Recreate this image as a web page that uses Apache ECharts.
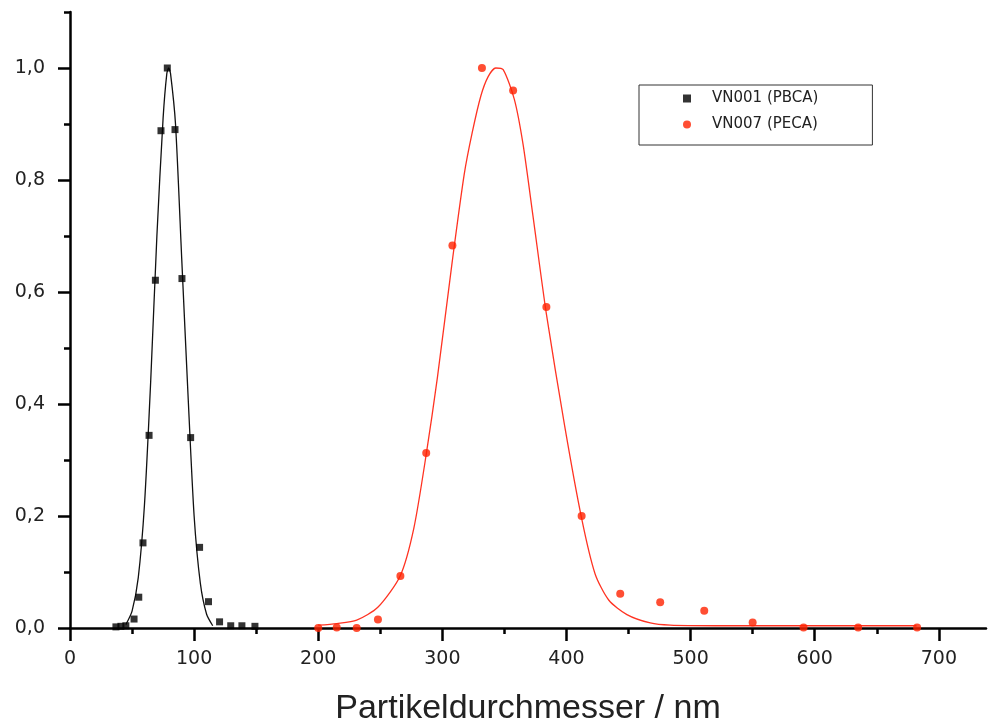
<!DOCTYPE html>
<html>
<head>
<meta charset="utf-8">
<title>Partikelgrößenverteilung</title>
<script src="https://cdn.jsdelivr.net/npm/echarts@6/dist/echarts.min.js"></script>
<style>
  html, body { margin: 0; padding: 0; background: #ffffff; }
  #chart { width: 992px; height: 722px; }
</style>
</head>
<body>
<div id="chart"></div>
<script>
// Measured size distribution, VN001 (PBCA)
const pbcaDiameter = [37, 41, 45, 51.6, 55.4, 58.8, 63.7, 68.8, 73.3, 78.4, 84.6, 90.2, 97.2, 104.4, 111.6, 120.5, 129.5, 138.5, 149];
const pbcaValue    = [0.002, 0.003, 0.004, 0.016, 0.055, 0.152, 0.344, 0.621, 0.888, 1.0, 0.890, 0.624, 0.340, 0.144, 0.047, 0.011, 0.004, 0.004, 0.003];

// Fitted curve, VN001
const pbcaFitDiameter = [45, 50, 55, 60, 65, 70, 75, 78, 79.5, 81, 85, 90, 95, 100, 105, 110, 115];
const pbcaFitValue    = [0.006, 0.03, 0.09, 0.22, 0.44, 0.70, 0.91, 0.99, 1.0, 0.99, 0.90, 0.66, 0.42, 0.20, 0.08, 0.025, 0.004];

// Measured size distribution, VN007 (PECA)
const pecaDiameter = [200, 214.9, 231, 248.1, 266.2, 287, 308.1, 331.9, 357, 383.8, 412.2, 443.3, 475.5, 511, 550, 591, 635, 682.5];
const pecaValue    = [0.0, 0.001, 0.0, 0.015, 0.093, 0.3125, 0.683, 1.0, 0.96, 0.573, 0.200, 0.061, 0.046, 0.031, 0.010, 0.001, 0.001, 0.001];

// Fitted curve, VN007
const pecaFitDiameter = [200, 215, 231, 248, 266, 277, 287, 296, 308, 317.6, 324, 331, 337, 343, 349, 358, 365, 373, 383.8, 398.6, 412, 423, 434, 448.7, 467.5, 483.6, 520, 600, 682];
const pecaFitValue    = [0.005, 0.008, 0.014, 0.037, 0.093, 0.178, 0.31, 0.447, 0.655, 0.81, 0.884, 0.95, 0.985, 1.0, 0.997, 0.944, 0.864, 0.736, 0.561, 0.36, 0.198, 0.097, 0.05, 0.024, 0.009, 0.005, 0.004, 0.004, 0.004];

// Axis ticks
const xTicks      = [0, 100, 200, 300, 400, 500, 600, 700];
const xMinorTicks = [50, 150, 250, 350, 450, 550, 650];
const yTicks      = [0, 0.2, 0.4, 0.6, 0.8, 1.0];
const yMinorTicks = [0.1, 0.3, 0.5, 0.7, 0.9, 1.1];

const seriesNames = ['VN001 (PBCA)', 'VN007 (PECA)'];
const xTitle = 'Partikeldurchmesser / nm';

const zip = (xs, ys) => xs.map((x, i) => [x, ys[i]]);

const axisColor = '#000000';
const labelFont = { fontFamily: 'DejaVu Sans', fontSize: 19, color: '#222222' };
const X_MAX = 738;
const Y_MAX = 1.1;

const chart = echarts.init(document.getElementById('chart'), null, { renderer: 'canvas' });

chart.setOption({
  backgroundColor: '#ffffff',
  animation: false,
  grid: { left: 70, right: 6, top: 12, bottom: 94, containLabel: false, outerBoundsMode: 'none' },
  legend: {
    data: [
      { name: seriesNames[0], icon: 'rect' },
      { name: seriesNames[1], icon: 'circle' }
    ],
    orient: 'vertical',
    left: 639,
    top: 85,
    itemWidth: 8,
    itemHeight: 8,
    itemGap: 11,
    padding: [6, 54, 13, 44],
    borderColor: '#333333',
    borderWidth: 1,
    backgroundColor: '#ffffff',
    textStyle: { fontFamily: 'DejaVu Sans', fontSize: 15, color: '#222222', lineHeight: 14, padding: [0, 0, 0, 16] }
  },
  xAxis: [
    {
      type: 'value',
      min: 0,
      max: X_MAX,
      position: 'bottom',
      name: xTitle,
      nameLocation: 'middle',
      nameGap: 64,
      nameTextStyle: { fontFamily: 'Liberation Sans', fontSize: 34, color: '#222222' },
      axisLine: { show: true, onZero: false, lineStyle: { color: axisColor, width: 2.5 } },
      axisTick: { show: true, inside: false, length: 13, customValues: xTicks, lineStyle: { color: axisColor, width: 2.5 } },
      axisLabel: { show: true, margin: 22, customValues: xTicks, formatter: v => String(v), ...labelFont },
      splitLine: { show: false }
    },
    {
      type: 'value',
      min: 0,
      max: X_MAX,
      position: 'bottom',
      axisLine: { show: false, onZero: false },
      axisTick: { show: true, inside: false, length: 6, customValues: xMinorTicks, lineStyle: { color: axisColor, width: 2.5 } },
      axisLabel: { show: false },
      splitLine: { show: false }
    }
  ],
  yAxis: [
    {
      type: 'value',
      min: 0,
      max: Y_MAX,
      position: 'left',
      axisLine: { show: true, onZero: false, lineStyle: { color: axisColor, width: 2.5 } },
      axisTick: { show: true, inside: false, length: 12, customValues: yTicks, lineStyle: { color: axisColor, width: 2.5 } },
      axisLabel: { show: true, margin: 25, customValues: yTicks, formatter: v => v.toFixed(1).replace('.', ','), ...labelFont },
      splitLine: { show: false }
    },
    {
      type: 'value',
      min: 0,
      max: Y_MAX,
      position: 'left',
      axisLine: { show: false, onZero: false },
      axisTick: { show: true, inside: false, length: 6, customValues: yMinorTicks, lineStyle: { color: axisColor, width: 2.5 } },
      axisLabel: { show: false },
      splitLine: { show: false }
    }
  ],
  series: [
    {
      name: 'VN001 Fit',
      type: 'line',
      data: zip(pbcaFitDiameter, pbcaFitValue),
      showSymbol: false,
      smooth: 0.25,
      lineStyle: { color: '#111111', width: 1.3 },
      z: 2,
      silent: true
    },
    {
      name: 'VN007 Fit',
      type: 'line',
      data: zip(pecaFitDiameter, pecaFitValue),
      showSymbol: false,
      smooth: 0.25,
      lineStyle: { color: '#ff3322', width: 1.3 },
      z: 2,
      silent: true
    },
    {
      name: seriesNames[0],
      type: 'scatter',
      data: zip(pbcaDiameter, pbcaValue),
      symbol: 'rect',
      symbolSize: 7,
      itemStyle: { color: '#000000' },
      z: 3
    },
    {
      name: seriesNames[1],
      type: 'scatter',
      data: zip(pecaDiameter, pecaValue),
      symbol: 'circle',
      symbolSize: 8,
      itemStyle: { color: '#ff2200' },
      z: 3
    }
  ]
});
</script>
</body>
</html>
